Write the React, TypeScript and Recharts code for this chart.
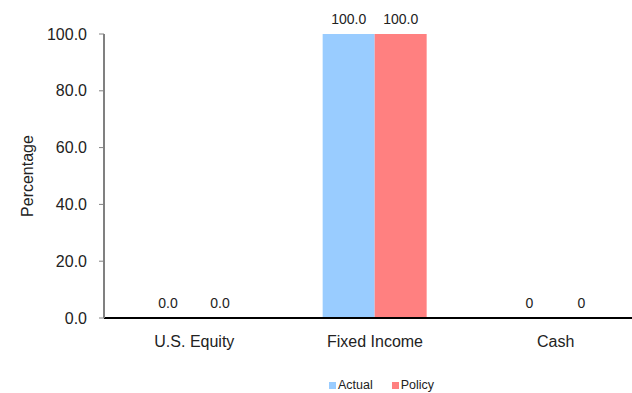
import React from 'react'
import { BarChart, Bar, XAxis, YAxis, Legend, LabelList } from 'recharts'

const categories = ['U.S. Equity', 'Fixed Income', 'Cash']
const actual = [0, 100, 0]
const policy = [0, 100, 0]
// Cash is reported as whole numbers, the other rows with one decimal
const labelDecimals = [1, 1, 0]
const yTicks = [0, 20, 40, 60, 80, 100]
const edgeTicks = [0, 1, 2, 3]

const ACTUAL_COLOR = '#99CCFF'
const POLICY_COLOR = '#FF8080'
const FONT = '"Liberation Sans", Arial, sans-serif'

const data = categories.map((name, i) => ({
  name,
  actual: actual[i],
  policy: policy[i],
}))

const formatLabel = (index: number, value: any) =>
  Number(value).toFixed(labelDecimals[index] ?? 1)

const renderLabel = (props: any) => {
  const { x, y, width, height, value, index } = props
  // zero bars get a 1px stub, so measure from the bottom edge
  const top = Number(value) === 0 ? y + height : y
  return (
    <text
      x={x + width / 2}
      y={top - 10}
      textAnchor="middle"
      fill="#222"
      fontSize={14}
      fontFamily={FONT}
    >
      {formatLabel(index, value)}
    </text>
  )
}

const LegendContent = () => (
  <div
    style={{
      display: 'flex',
      alignItems: 'center',
      paddingLeft: 329,
      paddingTop: 20,
      fontFamily: FONT,
      fontSize: 12.5,
      lineHeight: '14px',
      color: '#222',
    }}
  >
    <span style={{ width: 7, height: 7, background: ACTUAL_COLOR, marginRight: 2 }} />
    <span style={{ marginRight: 19 }}>Actual</span>
    <span style={{ width: 7, height: 7, background: POLICY_COLOR, marginRight: 2 }} />
    <span>Policy</span>
  </div>
)

export default function App() {
  return (
    <div
      style={{
        position: 'absolute',
        left: 0,
        top: 0,
        width: 632,
        height: 393,
        overflow: 'hidden',
        background: '#fff',
      }}
    >
      <BarChart
        width={660}
        height={393}
        data={data}
        margin={{ top: 34, right: 14, left: 0, bottom: 0 }}
        barGap={0}
        barSize={52}
      >
        <Bar xAxisId="cat" dataKey="actual" name="Actual" fill={ACTUAL_COLOR} minPointSize={1} isAnimationActive={false}>
          <LabelList dataKey="actual" content={renderLabel} />
        </Bar>
        <Bar xAxisId="cat" dataKey="policy" name="Policy" fill={POLICY_COLOR} minPointSize={1} isAnimationActive={false}>
          <LabelList dataKey="policy" content={renderLabel} />
        </Bar>
        <XAxis
          xAxisId="base"
          type="number"
          domain={[0, 3]}
          allowDataOverflow
          ticks={edgeTicks}
          tick={false}
          height={1}
          axisLine={{ stroke: '#000', strokeWidth: 2 }}
          tickLine={{ stroke: '#000' }}
          tickSize={5}
        />
        <XAxis
          xAxisId="cat"
          dataKey="name"
          height={39}
          axisLine={false}
          tickLine={false}
          tickMargin={11}
          tick={{ fill: '#222', fontSize: 16, fontFamily: FONT }}
        />
        <YAxis
          width={104}
          domain={[0, 100]}
          ticks={yTicks}
          tickFormatter={(v: number) => v.toFixed(1)}
          axisLine={{ stroke: '#808080', strokeWidth: 2 }}
          tickLine={{ stroke: '#808080' }}
          tickSize={5}
          tickMargin={12}
          tick={{ fill: '#222', fontSize: 16, fontFamily: FONT }}
          label={{
            value: 'Percentage',
            angle: -90,
            position: 'insideLeft',
            offset: 27,
            style: { fill: '#222', fontSize: 16, fontFamily: FONT, textAnchor: 'middle' },
          }}
        />
        <Legend
          verticalAlign="bottom"
          content={<LegendContent />}
          wrapperStyle={{ height: 35, left: 0 }}
        />
      </BarChart>
    </div>
  )
}
